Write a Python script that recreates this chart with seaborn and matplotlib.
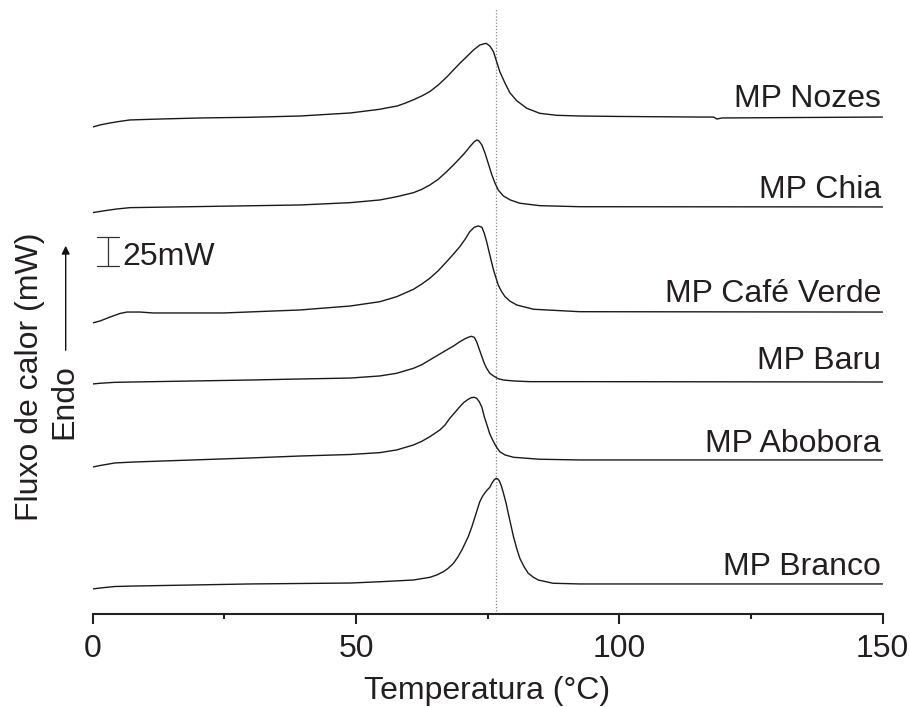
import numpy as np
import pandas as pd
import matplotlib
matplotlib.use("Agg")
import matplotlib.pyplot as plt
from matplotlib.ticker import MultipleLocator
import seaborn as sns

# ---------------- data (temperature in °C, stacked heat flow in mW) ----------------
nozes_T = [0, 1.4, 3.3, 5.2, 7.1, 12.8, 20.4, 29.9, 39.4, 48.9, 54.5, 56.1, 57.8, 59.3, 60.8,
           62.5, 64.0, 65.6, 67.3, 68.5, 69.7, 71.0, 72.3, 73.5, 74.7, 75.4, 76.1, 76.7, 77.3,
           78.3, 79.2, 80.5, 82.4, 84.9, 88.1, 92.5, 100, 115.3, 117.9, 118.5, 119.5, 150]
nozes_y = [419.8, 421.6, 423.3, 424.7, 425.9, 426.7, 427.6, 428.2, 429.3, 431.9, 435.1, 436.5,
           437.9, 440.3, 443.1, 446.6, 450.3, 456.0, 463.2, 469.0, 474.7, 480.4, 486.2, 490.5,
           492.0, 489.7, 484.7, 476.1, 467.5, 457.5, 449.4, 442.5, 436.0, 431.6, 429.9, 429.3,
           428.9, 428.4, 428.4, 426.7, 427.6, 428.4]

chia_T = [0, 1.9, 4.5, 7.1, 18.5, 39.4, 48.9, 54.5, 57.7, 60.9, 62.5, 64.0, 65.6, 67.2, 68.5,
          69.7, 70.7, 71.6, 72.4, 72.9, 73.3, 73.9, 74.5, 75.1, 75.8, 76.4, 77.0, 78.0, 79.3,
          81.1, 84.9, 92.5, 150]
chia_y = [346.0, 347.4, 349.1, 350.3, 351.1, 352.6, 354.6, 356.9, 359.7, 363.2, 366.1, 369.8,
          374.7, 381.3, 387.1, 392.8, 397.7, 402.8, 406.9, 408.6, 408.0, 404.3, 397.2, 388.5,
          378.4, 371.3, 365.5, 360.3, 356.9, 354.1, 352.0, 351.1, 350.9]

cafe_T = [0, 1.4, 3.3, 5.2, 6.5, 9.0, 11.5, 24.8, 39.4, 48.9, 54.5, 57.7, 60.9, 62.5, 64.0,
          65.6, 67.2, 68.5, 69.7, 70.7, 71.6, 72.45, 73.2, 73.9, 74.35, 74.8, 75.4, 76.1, 76.6,
          77.0, 77.65, 78.3, 79.2, 80.5, 83.7, 92.5, 150]
cafe_y = [250.9, 252.6, 256.0, 259.1, 260.3, 260.3, 259.5, 259.5, 262.1, 265.5, 269.2, 273.5,
          279.9, 284.5, 289.4, 295.9, 303.7, 310.3, 316.6, 323.0, 329.6, 333.4, 334.5, 333.4,
          328.2, 321.0, 309.5, 296.6, 289.4, 283.6, 277.8, 273.5, 269.8, 266.4, 262.7, 260.6,
          260.3]

baru_T = [0, 1.4, 4.2, 7.7, 29.9, 39.4, 48.9, 54.5, 57.7, 60.9, 62.5, 64.0, 65.6, 67.2, 68.5,
          69.7, 70.7, 71.3, 71.9, 72.45, 72.9, 73.4, 73.9, 74.35, 74.8, 75.4, 76.1, 77.0, 78.0,
          79.9, 83.0, 92.5, 150]
baru_y = [198.3, 198.9, 199.7, 200.0, 201.7, 202.6, 203.4, 205.2, 207.5, 211.8, 214.9, 219.0,
          223.3, 227.6, 231.0, 234.7, 237.3, 238.5, 239.4, 238.5, 234.7, 228.2, 221.8, 216.1,
          211.8, 207.5, 205.2, 202.8, 201.7, 200.9, 200.3, 200.3, 200.0]

abobora_T = [0, 1.4, 4.2, 7.7, 29.9, 39.4, 48.9, 54.5, 57.7, 60.9, 62.5, 64.0, 65.9, 66.9, 67.8,
             68.8, 69.7, 70.5, 71.3, 71.9, 72.4, 72.9, 73.4, 73.9, 74.35, 74.8, 75.4, 76.1,
             76.7, 77.3, 78.3, 79.9, 84.9, 92.5, 150]
abobora_y = [126.7, 128.0, 130.2, 131.0, 134.5, 136.2, 137.5, 139.1, 141.4, 145.7, 148.9, 152.8,
             158.6, 162.9, 168.7, 173.9, 178.7, 182.5, 185.1, 186.5, 186.8, 186.0, 183.0, 178.2,
             170.1, 163.8, 155.2, 148.5, 143.7, 139.9, 137.1, 135.1, 133.4, 132.8, 132.8]

branco_T = [0, 1.4, 4.2, 7.7, 29.9, 39.4, 48.9, 54.5, 60.9, 64.0, 65.3, 66.6, 67.5, 68.5, 69.3,
            70.1, 70.7, 71.3, 72.0, 72.6, 73.1, 73.5, 74.05, 74.5, 74.9, 75.4, 75.8, 76.2, 76.6,
            76.9, 77.2, 77.6, 78.0, 78.5, 78.9, 79.4, 79.9, 80.5, 81.1, 81.9, 82.7, 83.7, 84.6,
            87.4, 92.5, 150]
branco_y = [21.6, 22.4, 23.7, 24.1, 25.9, 26.3, 26.7, 27.8, 29.3, 31.6, 33.6, 36.5, 39.4, 43.7,
            48.9, 55.2, 60.9, 66.6, 75.3, 83.9, 91.1, 96.8, 101.7, 104.6, 106.9, 109.2, 112.7,
            115.5, 117.0, 116.4, 114.9, 110.3, 104.0, 95.4, 86.8, 76.7, 66.6, 56.6, 48.0, 40.8,
            35.1, 31.6, 29.3, 26.5, 25.9, 25.9]

sample_names = ["MP Nozes", "MP Chia", "MP Café Verde", "MP Baru", "MP Abobora", "MP Branco"]
label_y = [437.1, 358.6, 269.0, 211.2, 139.7, 33.6]   # label baselines (mW, stacked)
ref_temp = 76.6                                        # dotted reference line
scale_mw = 25
x_ticks = [0, 50, 100, 150]

curves = [(nozes_T, nozes_y), (chia_T, chia_y), (cafe_T, cafe_y),
          (baru_T, baru_y), (abobora_T, abobora_y), (branco_T, branco_y)]

frames = []
for name, (t, y) in zip(sample_names, curves):
    frames.append(pd.DataFrame({"T": t, "q": y, "amostra": name}))
df = pd.concat(frames, ignore_index=True)

# ---------------- style ----------------
sns.set_theme(style="white")
plt.rcParams["font.family"] = ["Liberation Sans", "DejaVu Sans"]
plt.rcParams["lines.solid_joinstyle"] = "round"
txt_col = "#231f20"
FS = 23

fig = plt.figure(figsize=(9.10, 7.07), dpi=100)
ax = fig.add_axes([92.7 / 910, 1 - 614 / 707, 790 / 910, 606 / 707])

for name in sample_names:
    sub = df[df["amostra"] == name]
    sns.lineplot(data=sub, x="T", y="q", ax=ax, color="#1a1a1a", lw=1.0,
                 sort=False, estimator=None, legend=False)

ax.axvline(ref_temp, color="#8a8a8a", lw=0.9, ls=(0, (1, 1.5)), zorder=0)

for name, yl in zip(sample_names, label_y):
    ax.text(149.7, yl, name, ha="right", va="baseline", fontsize=FS, color=txt_col)

# scale bar
y0 = 300.0
ax.plot([2.9, 2.9], [y0, y0 + scale_mw], color="#333", lw=0.9)
ax.plot([0.8, 5.0], [y0, y0], color="#333", lw=0.9)
ax.plot([0.8, 5.0], [y0 + scale_mw, y0 + scale_mw], color="#333", lw=0.9)
ax.text(5.6, y0 + 0.9, f"{scale_mw}mW", ha="left", va="baseline", fontsize=FS, color=txt_col)

ax.set_xlim(0, 150)
ax.set_ylim(0, 522.4)
ax.set_xticks(x_ticks)
ax.set_xticklabels([str(v) for v in x_ticks])
ax.xaxis.set_minor_locator(MultipleLocator(25))
ax.set_yticks([])
ax.set_xlabel("")
ax.set_ylabel("")
for s in ["left", "right", "top"]:
    ax.spines[s].set_visible(False)
ax.spines["bottom"].set_linewidth(1.5)
ax.spines["bottom"].set_color("#222")
ax.tick_params(axis="x", which="major", direction="out", length=7.2, width=1.5,
               color="#222", labelsize=FS, labelcolor=txt_col, pad=7, bottom=True)
ax.tick_params(axis="x", which="minor", direction="out", length=3.3, width=1.5,
               color="#222", bottom=True)

fig.text(487 / 910, 1 - 699 / 707, "Temperatura (°C)", ha="center", va="baseline",
         fontsize=FS, color=txt_col)
fig.text(30 / 910, 1 - 377 / 707, "Fluxo de calor (mW)", rotation=90, ha="center",
         va="center", fontsize=FS, color=txt_col)
fig.text(64 / 910, 1 - 402 / 707, "Endo", rotation=90, ha="center", va="center",
         fontsize=FS, color=txt_col)
fig.patches.append(matplotlib.patches.FancyArrowPatch(
    (65.7 / 910, 1 - 353 / 707), (65.7 / 910, 1 - 243 / 707),
    transform=fig.transFigure, arrowstyle="-|>", mutation_scale=12,
    color="#111", lw=1.0))

fig.savefig("out.png", dpi=100, facecolor="white")
